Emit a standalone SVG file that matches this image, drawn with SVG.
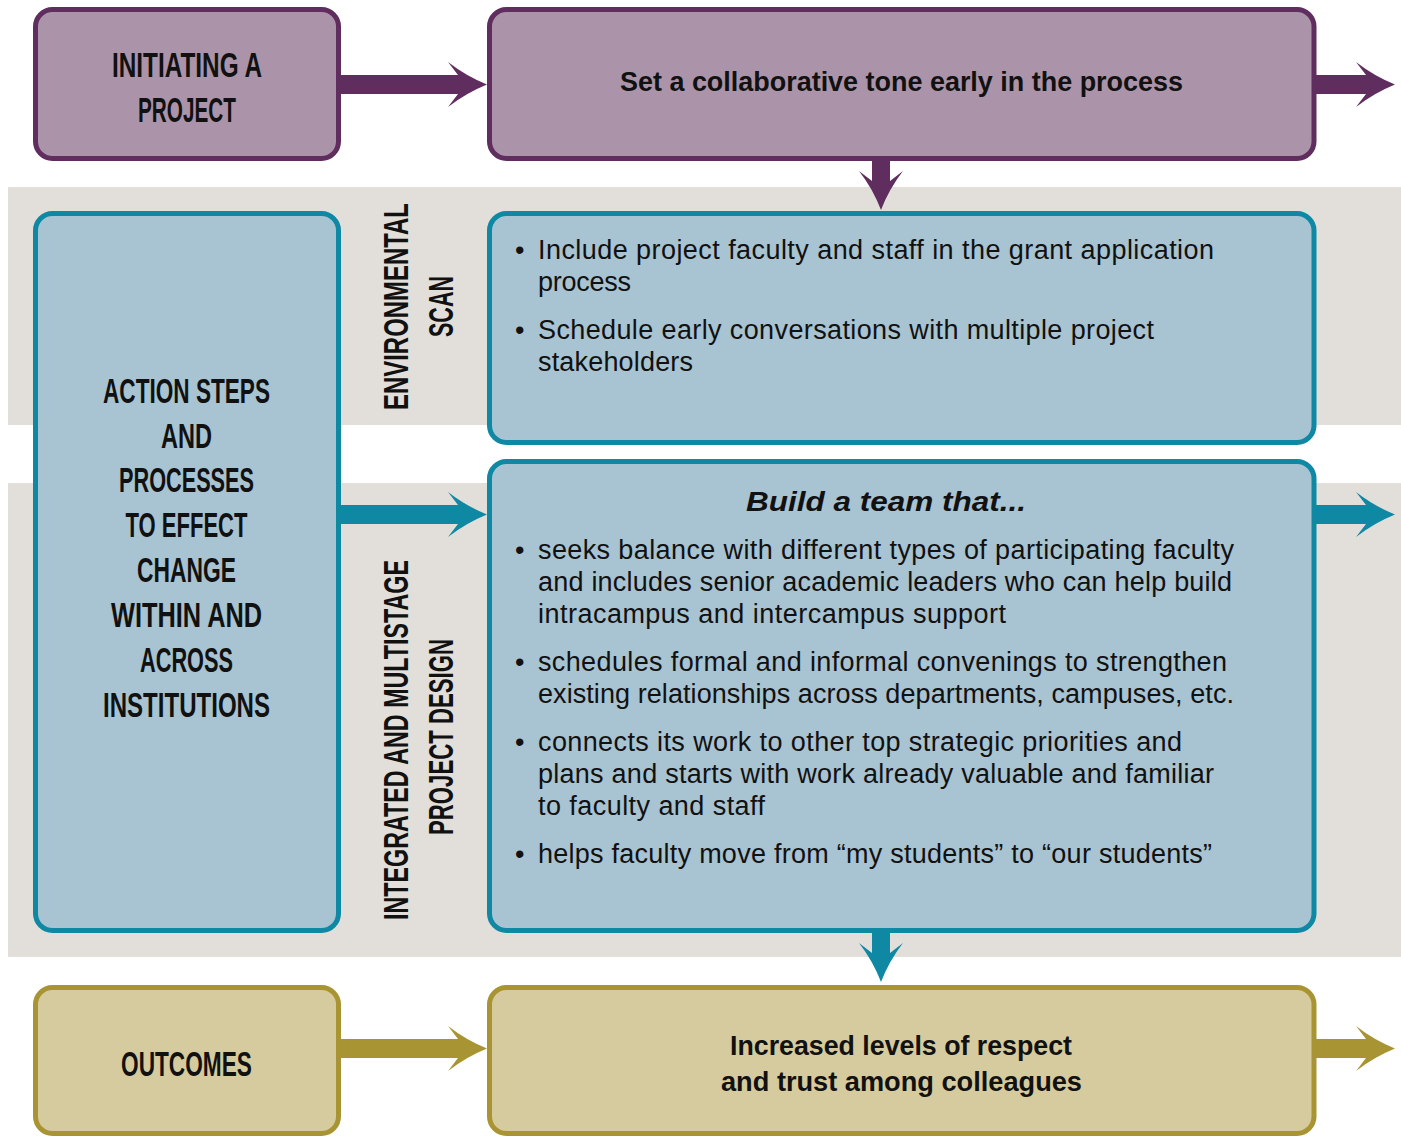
<svg xmlns="http://www.w3.org/2000/svg" width="1401" height="1136" viewBox="0 0 1401 1136">
<style>
.band{fill:#e2dfdb}
.pbox{fill:#ab94a9;stroke:#5f2e5e;stroke-width:5}
.tbox{fill:#a8c3d2;stroke:#0e88a3;stroke-width:5}
.obox{fill:#d6cb9e;stroke:#a99433;stroke-width:5}
.parr{fill:#5f2e5e}
.tarr{fill:#0e88a3}
.oarr{fill:#a99433}
.hd{font-family:"Liberation Sans",Arial,sans-serif;font-weight:bold;font-size:35px;fill:#111;text-anchor:middle}
.ttl{font-family:"Liberation Sans",Arial,sans-serif;font-weight:bold;font-size:27px;fill:#111;text-anchor:middle}
.body{font-family:"Liberation Sans",Arial,sans-serif;font-size:27px;fill:#111}
.bt{font-family:"Liberation Sans",Arial,sans-serif;font-weight:bold;font-style:italic;font-size:28px;fill:#111}
</style>
<rect class="band" x="8" y="187" width="1393" height="238"/>
<rect class="band" x="8" y="483" width="1393" height="474"/>

<g id="connectors">
  <path class="parr" d="M338,75 L458,75 L448,62 Q466,76 487,84.5 Q466,93 448,107 L458,94 L338,94 Z"/>
  <path class="parr" d="M1312,75 L1366,75 L1356,62 Q1374,76 1395,84.5 Q1374,93 1356,107 L1366,94 L1312,94 Z"/>
  <path class="parr" d="M872,156 L872,181 L859,171 Q873,189 881,210 Q889,189 903,171 L890,181 L890,156 Z"/>
  <path class="tarr" d="M338,505 L458,505 L448,492 Q466,506 487,514.5 Q466,523 448,537 L458,524 L338,524 Z"/>
  <path class="tarr" d="M1312,505 L1366,505 L1356,492 Q1374,506 1395,514.5 Q1374,523 1356,537 L1366,524 L1312,524 Z"/>
  <path class="tarr" d="M872,930 L872,953 L859,943 Q873,961 881,982 Q889,961 903,943 L890,953 L890,930 Z"/>
  <path class="oarr" d="M338,1039 L458,1039 L448,1026 Q466,1040 487,1048.5 Q466,1057 448,1071 L458,1058 L338,1058 Z"/>
  <path class="oarr" d="M1312,1039 L1366,1039 L1356,1026 Q1374,1040 1395,1048.5 Q1374,1057 1356,1071 L1366,1058 L1312,1058 Z"/>
</g>

<g id="initiating">
  <rect class="pbox" x="35.5" y="9.5" width="303" height="149" rx="17"/>
  <text class="hd" x="187" y="77" textLength="150" lengthAdjust="spacingAndGlyphs">INITIATING A</text>
  <text class="hd" x="187" y="122" textLength="98" lengthAdjust="spacingAndGlyphs">PROJECT</text>
</g>

<g id="collab-tone">
  <rect class="pbox" x="489.5" y="9.5" width="824.5" height="149" rx="17"/>
  <text class="ttl" x="901.5" y="91" textLength="563" lengthAdjust="spacingAndGlyphs">Set a collaborative tone early in the process</text>
</g>

<g id="action-steps">
  <rect class="tbox" x="35.5" y="213.5" width="303" height="717" rx="17"/>
  <text class="hd" x="186.5" y="403" textLength="167" lengthAdjust="spacingAndGlyphs">ACTION STEPS</text>
  <text class="hd" x="186.5" y="448" textLength="51" lengthAdjust="spacingAndGlyphs">AND</text>
  <text class="hd" x="186.5" y="492" textLength="135" lengthAdjust="spacingAndGlyphs">PROCESSES</text>
  <text class="hd" x="186.5" y="537" textLength="122" lengthAdjust="spacingAndGlyphs">TO EFFECT</text>
  <text class="hd" x="186.5" y="582" textLength="99" lengthAdjust="spacingAndGlyphs">CHANGE</text>
  <text class="hd" x="186.5" y="627" textLength="151" lengthAdjust="spacingAndGlyphs">WITHIN AND</text>
  <text class="hd" x="186.5" y="672" textLength="93" lengthAdjust="spacingAndGlyphs">ACROSS</text>
  <text class="hd" x="186.5" y="717" textLength="167" lengthAdjust="spacingAndGlyphs">INSTITUTIONS</text>
</g>

<g id="env-scan-label">
  <text class="hd" transform="translate(408,306.5) rotate(-90)" x="0" y="0" textLength="207" lengthAdjust="spacingAndGlyphs">ENVIRONMENTAL</text>
  <text class="hd" transform="translate(453,306.5) rotate(-90)" x="0" y="0" textLength="61" lengthAdjust="spacingAndGlyphs">SCAN</text>
</g>

<g id="design-label">
  <text class="hd" transform="translate(408,740) rotate(-90)" x="0" y="0" textLength="360" lengthAdjust="spacingAndGlyphs">INTEGRATED AND MULTISTAGE</text>
  <text class="hd" transform="translate(453,737) rotate(-90)" x="0" y="0" textLength="196" lengthAdjust="spacingAndGlyphs">PROJECT DESIGN</text>
</g>

<g id="env-scan">
  <rect class="tbox" x="489.5" y="213.5" width="824.5" height="229" rx="17"/>
  <text class="body" x="515" y="259">•</text>
  <text class="body" x="538" y="259" textLength="676">Include project faculty and staff in the grant application</text>
  <text class="body" x="538" y="291" textLength="93">process</text>
  <text class="body" x="515" y="339">•</text>
  <text class="body" x="538" y="339" textLength="616">Schedule early conversations with multiple project</text>
  <text class="body" x="538" y="371" textLength="155">stakeholders</text>
</g>

<g id="build-team">
  <rect class="tbox" x="489.5" y="461.5" width="824.5" height="469" rx="17"/>
  <text class="bt" x="746" y="511" textLength="280" lengthAdjust="spacingAndGlyphs">Build a team that...</text>
  <text class="body" x="515" y="559">•</text>
  <text class="body" x="538" y="559" textLength="696">seeks balance with different types of participating faculty</text>
  <text class="body" x="538" y="591" textLength="694">and includes senior academic leaders who can help build</text>
  <text class="body" x="538" y="623" textLength="468">intracampus and intercampus support</text>
  <text class="body" x="515" y="671">•</text>
  <text class="body" x="538" y="671" textLength="689">schedules formal and informal convenings to strengthen</text>
  <text class="body" x="538" y="703" textLength="696">existing relationships across departments, campuses, etc.</text>
  <text class="body" x="515" y="751">•</text>
  <text class="body" x="538" y="751" textLength="644">connects its work to other top strategic priorities and</text>
  <text class="body" x="538" y="783" textLength="676">plans and starts with work already valuable and familiar</text>
  <text class="body" x="538" y="815" textLength="227">to faculty and staff</text>
  <text class="body" x="515" y="863">•</text>
  <text class="body" x="538" y="863" textLength="674">helps faculty move from “my students” to “our students”</text>
</g>

<g id="outcomes">
  <rect class="obox" x="35.5" y="987.5" width="303" height="146" rx="17"/>
  <text class="hd" x="186.5" y="1076" textLength="131" lengthAdjust="spacingAndGlyphs">OUTCOMES</text>
</g>

<g id="respect-trust">
  <rect class="obox" x="489.5" y="987.5" width="824.5" height="146" rx="17"/>
  <text class="ttl" x="901" y="1055" textLength="342" lengthAdjust="spacingAndGlyphs">Increased levels of respect</text>
  <text class="ttl" x="901.5" y="1091" textLength="361" lengthAdjust="spacingAndGlyphs">and trust among colleagues</text>
</g>
</svg>
